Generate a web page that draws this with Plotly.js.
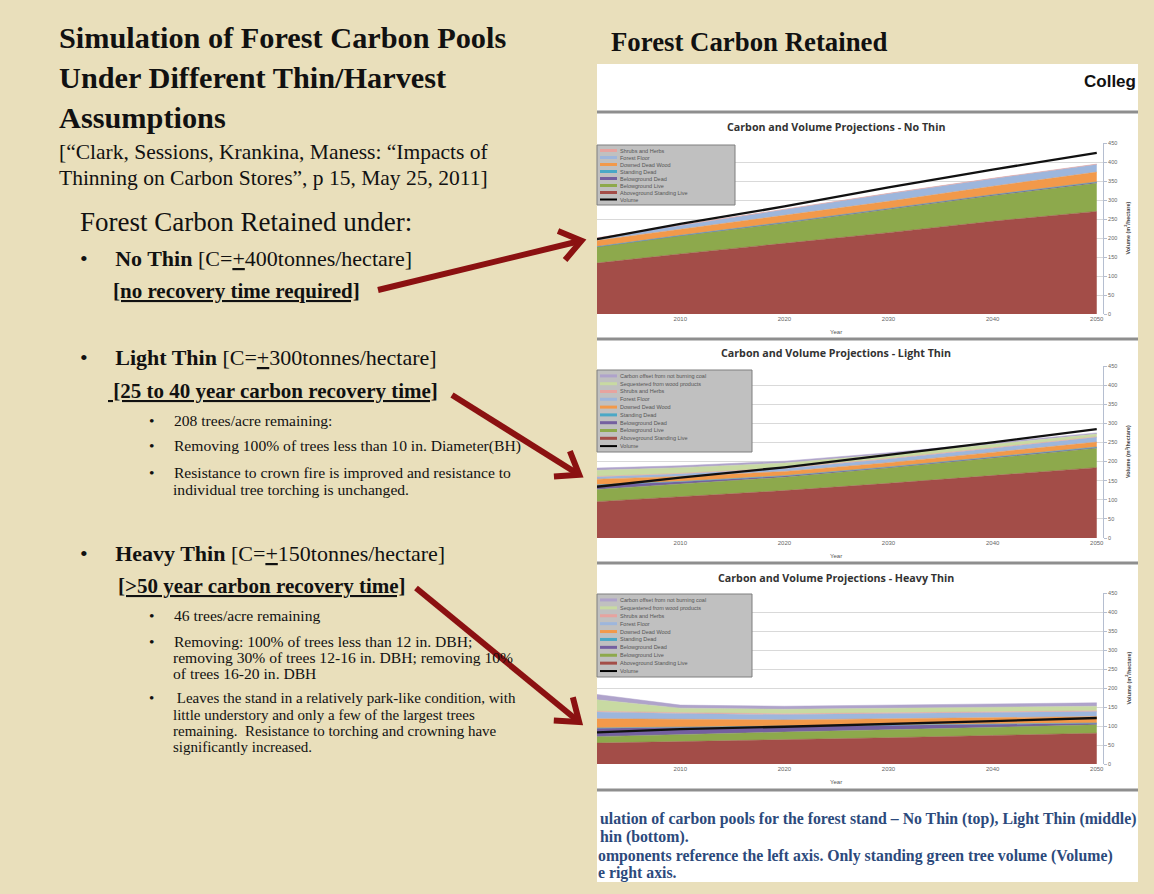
<!DOCTYPE html>
<html>
<head>
<meta charset="utf-8">
<script src="https://cdn.plot.ly/plotly-3.0.1.min.js"></script>
<style>
  html, body { margin: 0; padding: 0; background: #EAE0BE; }
  #chart { width: 1154px; height: 894px; }
</style>
</head>
<body>
<div id="chart"></div>
<script>
// ---------------- DATA ----------------
const years = [2002, 2010, 2020, 2030, 2040, 2050];
const yearTicks = [2010, 2020, 2030, 2040, 2050];

const seriesNames = [
  'Aboveground Standing Live',
  'Belowground Live',
  'Belowground Dead',
  'Standing Dead',
  'Downed Dead Wood',
  'Forest Floor',
  'Shrubs and Herbs',
  'Sequestered from wood products',
  'Carbon offset from not burning coal'
];
const volumeName = 'Volume';
const xAxisTitle = 'Year';
const yAxisTitle = 'Volume (m<sup>3</sup>/hectare)';

// No Thin (stack increments)
const noThinAboveLive     = [134, 158, 186, 214, 244, 270];
const noThinBelowLive     = [42, 47, 53, 61, 67, 74];
const noThinBelowDead     = [1, 1.5, 2, 2, 2.5, 3];
const noThinStandingDead  = [0.5, 0.5, 0.5, 0.5, 0.5, 0.5];
const noThinDownedDead    = [16, 16, 17, 19, 22, 26];
const noThinForestFloor   = [6, 10, 15, 20, 20, 20];
const noThinShrubs        = [1, 1, 1, 1, 1, 1];
const noThinVolume        = [197, 237, 283, 333, 380, 424];

// Light Thin
const lightAboveLive      = [95, 108, 124, 143, 163, 184];
const lightBelowLive      = [32, 33, 35, 40, 46, 51];
const lightBelowDead      = [11, 6, 3, 2, 2, 2];
const lightStandingDead   = [1, 1, 1, 1, 1, 1];
const lightDownedDead     = [15, 13, 11, 11, 12, 13];
const lightForestFloor    = [6, 7, 8, 10, 11, 13];
const lightShrubs         = [1, 1, 1, 1, 1, 1];
const lightSequestered    = [16, 15, 13, 11, 9, 7];
const lightOffset         = [6, 5, 5, 4, 4, 3];
const lightVolume         = [134, 158, 185, 218, 250, 285];

// Heavy Thin
const heavyAboveLive      = [55, 59, 63, 69, 75, 81];
const heavyBelowLive      = [17, 19, 21, 21, 22, 22];
const heavyBelowDead      = [22, 18, 14, 11, 7, 4];
const heavyStandingDead   = [1, 1, 1, 1, 1, 1];
const heavyDownedDead     = [24, 20, 17, 17, 17, 17];
const heavyForestFloor    = [18, 16, 14, 14, 13, 13];
const heavyShrubs         = [2, 2, 2, 2, 2, 2];
const heavySequestered    = [30, 12, 12, 12, 12, 12];
const heavyOffset         = [14, 8, 8, 8, 8, 9];
const heavyVolume         = [83, 92, 98, 105, 113, 121];

const chartTitles = [
  'Carbon and Volume Projections - No Thin',
  'Carbon and Volume Projections - Light Thin',
  'Carbon and Volume Projections - Heavy Thin'
];

// ---------------- STYLE ----------------
const seriesColors = ['#A34D48', '#8DA94C', '#7460A0', '#4AA8C6', '#F2994A', '#9DB6DC', '#E6A39F', '#C8DAA2', '#AFA3CB'];
const W = 1154, H = 894;
const px = x => x / W;
const py = y => 1 - y / H;

const charts = [
  { title: chartTitles[0], stacks: [noThinAboveLive, noThinBelowLive, noThinBelowDead, noThinStandingDead, noThinDownedDead, noThinForestFloor, noThinShrubs], volume: noThinVolume,
    top: 143, bot: 314, titleY: 127, legTop: 145, legBot: 205, legRight: 735 },
  { title: chartTitles[1], stacks: [lightAboveLive, lightBelowLive, lightBelowDead, lightStandingDead, lightDownedDead, lightForestFloor, lightShrubs, lightSequestered, lightOffset], volume: lightVolume,
    top: 366, bot: 538, titleY: 353, legTop: 370, legBot: 452, legRight: 752 },
  { title: chartTitles[2], stacks: [heavyAboveLive, heavyBelowLive, heavyBelowDead, heavyStandingDead, heavyDownedDead, heavyForestFloor, heavyShrubs, heavySequestered, heavyOffset], volume: heavyVolume,
    top: 593, bot: 764, titleY: 578, legTop: 594, legBot: 677, legRight: 752 }
];

const traces = [];
const layout = {
  width: W, height: H, autosize: false,
  margin: { l: 0, r: 0, t: 0, b: 0 },
  paper_bgcolor: '#E9DFBB',
  plot_bgcolor: '#FFFFFF',
  showlegend: false,
  font: { family: 'Liberation Sans, Arial, sans-serif' },
  shapes: [],
  annotations: []
};

// white panel + separators
layout.shapes.push({ type: 'rect', xref: 'paper', yref: 'paper', x0: px(597), x1: px(1138), y0: py(882), y1: py(64),
  fillcolor: '#FFFFFF', line: { width: 0 }, layer: 'below' });
[112, 339, 563, 790].forEach(yy => {
  layout.shapes.push({ type: 'rect', xref: 'paper', yref: 'paper', x0: px(597), x1: px(1138), y0: py(yy + 1.5), y1: py(yy - 1.5),
    fillcolor: '#8E8E8E', line: { width: 0 }, layer: 'above' });
});

charts.forEach((c, i) => {
  const n = i === 0 ? '' : String(i + 1);
  const xa = 'x' + n, ya = 'y' + n;
  c.stacks.forEach((vals, k) => {
    traces.push({
      type: 'scatter', mode: 'lines', x: years, y: vals, name: seriesNames[k],
      stackgroup: 'sg' + i, xaxis: xa, yaxis: ya,
      line: { color: seriesColors[k], width: 0.5 }, fillcolor: seriesColors[k],
      hoverinfo: 'skip'
    });
  });
  traces.push({
    type: 'scatter', mode: 'lines', x: years, y: c.volume, name: volumeName,
    xaxis: xa, yaxis: ya, line: { color: '#111111', width: 2.3 }, hoverinfo: 'skip'
  });

  layout['xaxis' + n] = {
    domain: [px(597), px(1103)], anchor: ya, range: [2002, 2050.6],
    tickvals: yearTicks, ticks: '', showgrid: false, zeroline: false, showline: false,
    tickfont: { size: 6, color: '#666666' }
  };
  layout['yaxis' + n] = {
    domain: [py(c.bot), py(c.top)], anchor: xa, side: 'right', range: [0, 450], dtick: 50,
    showgrid: true, gridcolor: '#D9D9D9', gridwidth: 1, zeroline: false,
    showline: true, linecolor: '#B5BED0', ticks: 'outside', ticklen: 3, tickcolor: '#B5BED0',
    tickfont: { size: 5.5, color: '#666666' }
  };

  // axis titles as annotations
  layout.annotations.push({ xref: 'paper', yref: 'paper', x: px(836), y: py(c.bot + 18), text: xAxisTitle,
    showarrow: false, xanchor: 'center', yanchor: 'middle', font: { size: 6, color: '#555555' } });
  layout.annotations.push({ xref: 'paper', yref: 'paper', x: px(1128), y: py((c.top + c.bot) / 2), text: '<b>' + yAxisTitle + '</b>',
    showarrow: false, xanchor: 'center', yanchor: 'middle', textangle: -90, font: { size: 5.5, color: '#444444' } });

  // chart title
  layout.annotations.push({ xref: 'paper', yref: 'paper', x: px(836), y: py(c.titleY), text: '<b>' + c.title + '</b>',
    showarrow: false, xanchor: 'center', yanchor: 'middle', font: { family: 'Open Sans, sans-serif', size: 10.7, color: '#333333' } });

  // legend box (drawn from series names / colors)
  layout.shapes.push({ type: 'rect', xref: 'paper', yref: 'paper', x0: px(597), x1: px(c.legRight), y0: py(c.legBot), y1: py(c.legTop),
    fillcolor: '#C0C0C0', line: { color: '#7F7F7F', width: 1 }, layer: 'above' });
  const nSeries = c.stacks.length;
  const entries = [];
  for (let k = nSeries - 1; k >= 0; k--) entries.push({ name: seriesNames[k], color: seriesColors[k], w: 3 });
  entries.push({ name: volumeName, color: '#000000', w: 2 });
  const step = (c.legBot - c.legTop - 4) / entries.length;
  entries.forEach((e, j) => {
    const yy = c.legTop + 2 + step * (j + 0.5);
    layout.shapes.push({ type: 'line', xref: 'paper', yref: 'paper', x0: px(600), x1: px(617), y0: py(yy), y1: py(yy),
      line: { color: e.color, width: e.w }, layer: 'above' });
    layout.annotations.push({ xref: 'paper', yref: 'paper', x: px(619), y: py(yy), text: e.name, showarrow: false,
      xanchor: 'left', yanchor: 'middle', font: { size: 5.5, color: '#555555' }, borderpad: 0 });
  });
});

// ---------------- TEXT ----------------
const serif = 'Liberation Serif, Times New Roman, serif';
function T(x, y, text, size, extra) {
  layout.annotations.push(Object.assign({ xref: 'paper', yref: 'paper', x: px(x), y: py(y), text: text, showarrow: false,
    xanchor: 'left', yanchor: 'middle', font: { family: serif, size: size, color: '#111111' }, borderpad: 0 }, extra || {}));
}
T(58, 38, '<b>Simulation of Forest Carbon Pools</b>', 30.3);
T(58, 78, '<b>Under Different Thin/Harvest</b>', 30.3);
T(58, 118, '<b>Assumptions</b>', 30.3);
T(58, 152, '[“Clark, Sessions, Krankina, Maness: “Impacts of', 21.5);
T(58, 178, 'Thinning on Carbon Stores”, p 15, May 25, 2011]', 21.5);
T(79, 222, 'Forest Carbon Retained under:', 27);

const bigGap = '&nbsp;&nbsp;&nbsp;&nbsp;&nbsp;';
T(79, 258, '•' + bigGap + '<b>No Thin</b> [C=<u>+</u>400tonnes/hectare]', 22);
T(112, 291, '<b><u>[no recovery time required]</u></b>', 21);

T(79, 357, '•' + bigGap + '<b>Light Thin</b> [C=<u>+</u>300tonnes/hectare]', 22);
T(107, 391, '<b><u> [25 to 40 year carbon recovery time]</u></b>', 21);

const sub = 15.6;
const gap = '&nbsp;&nbsp;&nbsp;&nbsp;&nbsp;';
T(148, 420, '•' + gap + '208 trees/acre remaining:', sub);
T(148, 446, '•' + gap + 'Removing 100% of trees less than 10 in. Diameter(BH)', sub);
T(148, 472, '•' + gap + 'Resistance to crown fire is improved and resistance to', sub);
T(172, 489, 'individual tree torching is unchanged.', sub);

T(79, 553, '•' + bigGap + '<b>Heavy Thin</b> [C=<u>+</u>150tonnes/hectare]', 22);
T(117, 586, '<b><u>[&gt;50 year carbon recovery time]</u></b>', 21);

T(148, 615, '•' + gap + '46 trees/acre remaining', sub);
T(148, 641, '•' + gap + 'Removing: 100% of trees less than 12 in. DBH;', sub);
T(172, 657, 'removing 30% of trees 12-16 in. DBH; removing 10%', sub);
T(172, 673, 'of trees 16-20 in. DBH', sub);
T(148, 698, '•' + gap + '&nbsp;Leaves the stand in a relatively park-like condition, with', 15);
T(172, 715, 'little understory and only a few of the largest trees', 15);
T(172, 731, 'remaining.  Resistance to torching and crowning have', 15);
T(172, 747, 'significantly increased.', 15);

T(610, 42, '<b>Forest Carbon Retained</b>', 26.8);
T(1137, 81, '<b>Colleg</b>', 17, { xanchor: 'right', font: { family: 'Liberation Sans, Arial, sans-serif', size: 17, color: '#111111' } });

const capFont = { family: serif, size: 15.8, color: '#2C4A7C' };
T(599, 819, '<b>ulation of carbon pools for the forest stand – No Thin (top), Light Thin (middle)</b>', 15.8, { font: capFont });
T(599, 837, '<b>hin (bottom).</b>', 15.8, { font: capFont });
T(597, 856, '<b>omponents reference the left axis. Only standing green tree volume (Volume)</b>', 15.8, { font: capFont });
T(597, 873, '<b>e right axis.</b>', 15.8, { font: capFont });

// arrows drawn as shapes (shaft + open chevron head)
const arrowColor = '#8B1111';
function A(tx, ty, hx, hy) {
  layout.shapes.push({ type: 'line', xref: 'paper', yref: 'paper', x0: px(tx), y0: py(ty), x1: px(hx), y1: py(hy),
    line: { color: arrowColor, width: 6 }, layer: 'above' });
  const dx = hx - tx, dy = hy - ty, len = Math.hypot(dx, dy);
  const ux = dx / len, uy = dy / len, nx = -uy, ny = ux;
  const L = 19, Wd = 15;
  const p1 = [hx - L * ux + Wd * nx, hy - L * uy + Wd * ny];
  const p2 = [hx - L * ux - Wd * nx, hy - L * uy - Wd * ny];
  const path = 'M' + px(p1[0]) + ',' + py(p1[1]) + ' L' + px(hx + 1.5 * ux) + ',' + py(hy + 1.5 * uy) + ' L' + px(p2[0]) + ',' + py(p2[1]);
  layout.shapes.push({ type: 'path', xref: 'paper', yref: 'paper', path: path,
    line: { color: arrowColor, width: 6 }, layer: 'above' });
}
A(378, 290, 580, 241);
A(452, 395, 578, 474);
A(416, 588, 578, 721);

Plotly.newPlot('chart', traces, layout, { staticPlot: true, displayModeBar: false });
</script>
</body>
</html>
